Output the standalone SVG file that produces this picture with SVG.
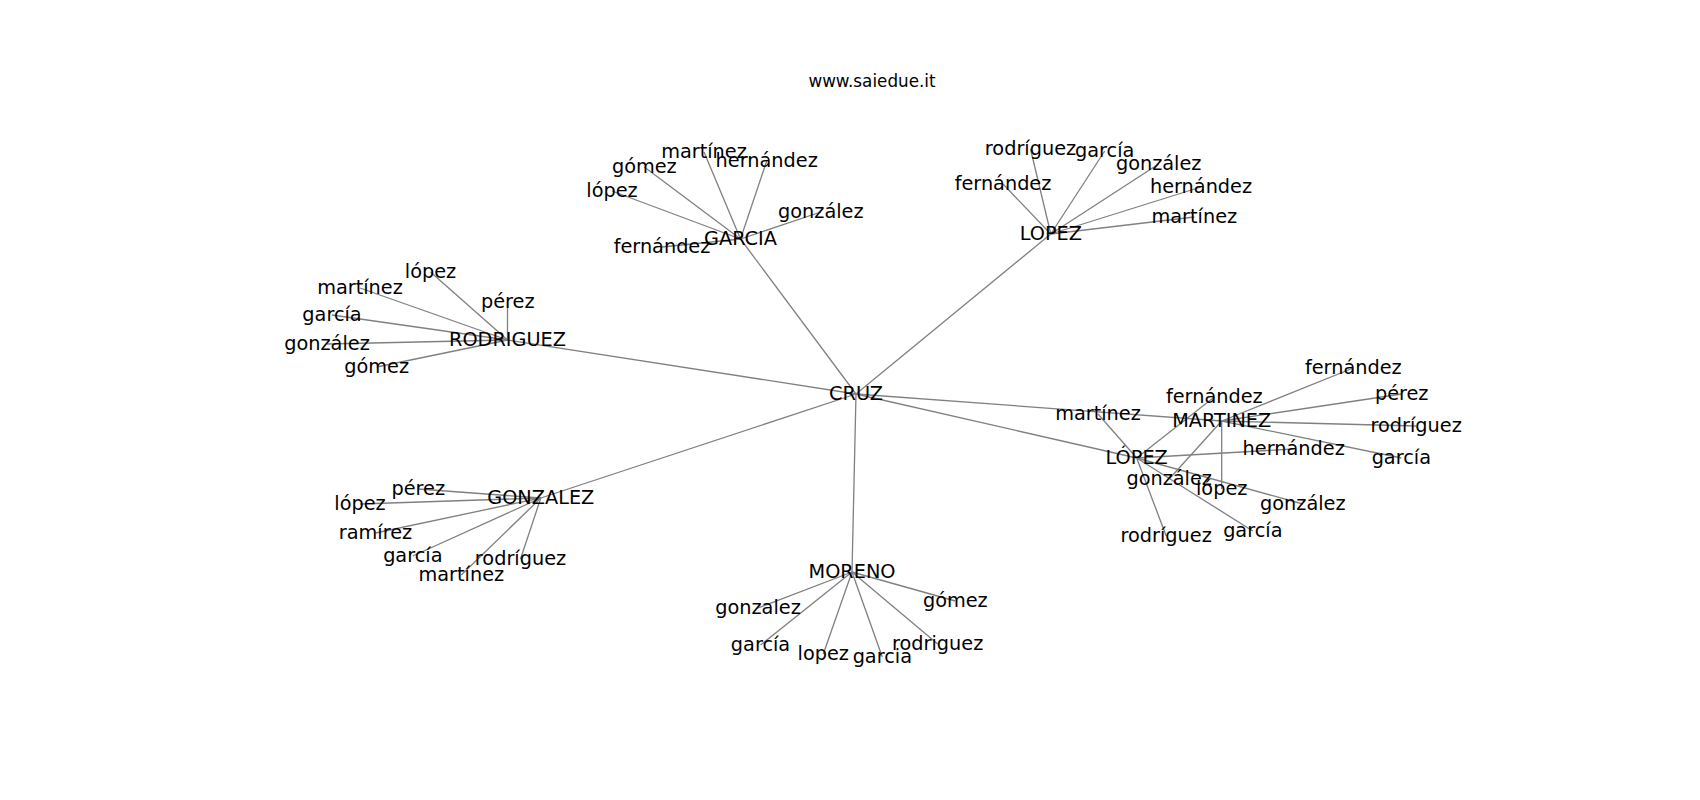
<svg xmlns="http://www.w3.org/2000/svg" width="1700" height="800" viewBox="0 0 1700 800">
<style>
.e{stroke:#808080;stroke-width:1.3;fill:none}
.t{font-family:"DejaVu Sans",sans-serif;font-size:19.3px;fill:#000;text-anchor:middle}
.title{font-family:"DejaVu Sans",sans-serif;font-size:16.8px;fill:#000;text-anchor:middle}
</style>
<rect width="1700" height="800" fill="#fff"/>
<text class="title" x="872" y="87">www.saiedue.it</text>
<g id="edges">
<line class="e" x1="856" y1="394" x2="740.5" y2="239"/>
<line class="e" x1="856" y1="394" x2="1050.8" y2="234"/>
<line class="e" x1="856" y1="394" x2="507.5" y2="340"/>
<line class="e" x1="856" y1="394" x2="540.8" y2="498"/>
<line class="e" x1="856" y1="394" x2="852" y2="572"/>
<line class="e" x1="856" y1="394" x2="1221.7" y2="421"/>
<line class="e" x1="856" y1="394" x2="1136.7" y2="458"/>
<line class="e" x1="740.5" y1="239" x2="704" y2="152"/>
<line class="e" x1="740.5" y1="239" x2="766.7" y2="161"/>
<line class="e" x1="740.5" y1="239" x2="644.3" y2="167"/>
<line class="e" x1="740.5" y1="239" x2="612" y2="191"/>
<line class="e" x1="740.5" y1="239" x2="820.8" y2="212"/>
<line class="e" x1="740.5" y1="239" x2="662" y2="247"/>
<line class="e" x1="1050.8" y1="234" x2="1030.5" y2="149"/>
<line class="e" x1="1050.8" y1="234" x2="1104.7" y2="151"/>
<line class="e" x1="1050.8" y1="234" x2="1158.7" y2="164"/>
<line class="e" x1="1050.8" y1="234" x2="1003" y2="184"/>
<line class="e" x1="1050.8" y1="234" x2="1201" y2="187"/>
<line class="e" x1="1050.8" y1="234" x2="1194.3" y2="217"/>
<line class="e" x1="507.5" y1="340" x2="430.5" y2="272"/>
<line class="e" x1="507.5" y1="340" x2="360" y2="288"/>
<line class="e" x1="507.5" y1="340" x2="507.5" y2="302"/>
<line class="e" x1="507.5" y1="340" x2="332" y2="315"/>
<line class="e" x1="507.5" y1="340" x2="327" y2="344"/>
<line class="e" x1="507.5" y1="340" x2="376.7" y2="367"/>
<line class="e" x1="540.8" y1="498" x2="418.3" y2="489"/>
<line class="e" x1="540.8" y1="498" x2="360" y2="504"/>
<line class="e" x1="540.8" y1="498" x2="375.5" y2="533"/>
<line class="e" x1="540.8" y1="498" x2="412.8" y2="556"/>
<line class="e" x1="540.8" y1="498" x2="520.5" y2="559"/>
<line class="e" x1="540.8" y1="498" x2="461.3" y2="575"/>
<line class="e" x1="852" y1="572" x2="758" y2="608"/>
<line class="e" x1="852" y1="572" x2="955.3" y2="601"/>
<line class="e" x1="852" y1="572" x2="760.5" y2="645"/>
<line class="e" x1="852" y1="572" x2="823.3" y2="654"/>
<line class="e" x1="852" y1="572" x2="882.3" y2="657"/>
<line class="e" x1="852" y1="572" x2="937.7" y2="644"/>
<line class="e" x1="1221.7" y1="421" x2="1353.3" y2="368"/>
<line class="e" x1="1221.7" y1="421" x2="1401.7" y2="394"/>
<line class="e" x1="1221.7" y1="421" x2="1416.2" y2="426"/>
<line class="e" x1="1221.7" y1="421" x2="1401.3" y2="458"/>
<line class="e" x1="1221.7" y1="421" x2="1221.7" y2="489"/>
<line class="e" x1="1221.7" y1="421" x2="1169.2" y2="479"/>
<line class="e" x1="1136.7" y1="458" x2="1098" y2="414"/>
<line class="e" x1="1136.7" y1="458" x2="1214.3" y2="397"/>
<line class="e" x1="1136.7" y1="458" x2="1293.7" y2="449"/>
<line class="e" x1="1136.7" y1="458" x2="1302.8" y2="504"/>
<line class="e" x1="1136.7" y1="458" x2="1252.8" y2="531"/>
<line class="e" x1="1136.7" y1="458" x2="1166.2" y2="536"/>
</g>
<g id="n-cruz"><text class="t" x="856" y="400">CRUZ</text></g>
<g id="n-garcia"><text class="t" x="740.5" y="245">GARCIA</text></g>
<g id="n-lopez"><text class="t" x="1050.8" y="240">LOPEZ</text></g>
<g id="n-rodriguez"><text class="t" x="507.5" y="346">RODRIGUEZ</text></g>
<g id="n-gonzalez"><text class="t" x="540.8" y="504">GONZALEZ</text></g>
<g id="n-moreno"><text class="t" x="852" y="578">MORENO</text></g>
<g id="n-martinez"><text class="t" x="1221.7" y="427">MARTINEZ</text></g>
<g id="n-lopez2"><text class="t" x="1136.7" y="464">LÓPEZ</text></g>

<g id="n-garcia-martinez"><text class="t" x="704" y="158">martínez</text></g>
<g id="n-garcia-hernandez"><text class="t" x="766.7" y="167">hernández</text></g>
<g id="n-garcia-gomez"><text class="t" x="644.3" y="173">gómez</text></g>
<g id="n-garcia-lopez"><text class="t" x="612" y="197">lópez</text></g>
<g id="n-garcia-gonzalez"><text class="t" x="820.8" y="218">gonzález</text></g>
<g id="n-garcia-fernandez"><text class="t" x="662" y="253">fernández</text></g>

<g id="n-lopez-rodriguez"><text class="t" x="1030.5" y="155">rodríguez</text></g>
<g id="n-lopez-garcia"><text class="t" x="1104.7" y="157">garcía</text></g>
<g id="n-lopez-gonzalez"><text class="t" x="1158.7" y="170">gonzález</text></g>
<g id="n-lopez-fernandez"><text class="t" x="1003" y="190">fernández</text></g>
<g id="n-lopez-hernandez"><text class="t" x="1201" y="193">hernández</text></g>
<g id="n-lopez-martinez"><text class="t" x="1194.3" y="223">martínez</text></g>

<g id="n-rod-lopez"><text class="t" x="430.5" y="278">lópez</text></g>
<g id="n-rod-martinez"><text class="t" x="360" y="294">martínez</text></g>
<g id="n-rod-perez"><text class="t" x="507.8" y="308">pérez</text></g>
<g id="n-rod-garcia"><text class="t" x="332" y="321">garcía</text></g>
<g id="n-rod-gonzalez"><text class="t" x="327" y="350">gonzález</text></g>
<g id="n-rod-gomez"><text class="t" x="376.7" y="373">gómez</text></g>

<g id="n-gon-perez"><text class="t" x="418.3" y="495">pérez</text></g>
<g id="n-gon-lopez"><text class="t" x="360" y="510">lópez</text></g>
<g id="n-gon-ramirez"><text class="t" x="375.5" y="539">ramírez</text></g>
<g id="n-gon-garcia"><text class="t" x="412.8" y="562">garcía</text></g>
<g id="n-gon-rodriguez"><text class="t" x="520.5" y="565">rodríguez</text></g>
<g id="n-gon-martinez"><text class="t" x="461.3" y="581">martínez</text></g>

<g id="n-mor-gonzalez"><text class="t" x="758" y="614">gonzalez</text></g>
<g id="n-mor-gomez"><text class="t" x="955.3" y="607">gómez</text></g>
<g id="n-mor-garcia1"><text class="t" x="760.5" y="651">garcía</text></g>
<g id="n-mor-lopez"><text class="t" x="823.3" y="660">lopez</text></g>
<g id="n-mor-garcia2"><text class="t" x="882.3" y="663">garcia</text></g>
<g id="n-mor-rodriguez"><text class="t" x="937.7" y="650">rodriguez</text></g>

<g id="n-mar-fernandez"><text class="t" x="1353.3" y="374">fernández</text></g>
<g id="n-mar-perez"><text class="t" x="1401.7" y="400">pérez</text></g>
<g id="n-mar-rodriguez"><text class="t" x="1416.2" y="432">rodríguez</text></g>
<g id="n-mar-garcia"><text class="t" x="1401.3" y="464">garcía</text></g>
<g id="n-mar-lopez"><text class="t" x="1221.7" y="495">lópez</text></g>
<g id="n-mar-gonzalez"><text class="t" x="1169.2" y="485">gonzález</text></g>

<g id="n-lo2-martinez"><text class="t" x="1098" y="420">martínez</text></g>
<g id="n-lo2-fernandez"><text class="t" x="1214.3" y="403">fernández</text></g>
<g id="n-lo2-hernandez"><text class="t" x="1293.7" y="455">hernández</text></g>
<g id="n-lo2-gonzalez"><text class="t" x="1302.8" y="510">gonzález</text></g>
<g id="n-lo2-garcia"><text class="t" x="1252.8" y="537">garcía</text></g>
<g id="n-lo2-rodriguez"><text class="t" x="1166.2" y="542">rodríguez</text></g>
</svg>
